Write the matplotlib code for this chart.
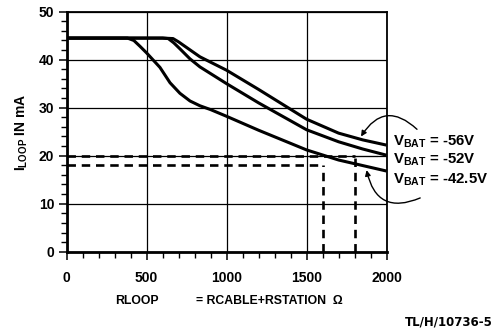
import numpy as np
import matplotlib
matplotlib.use('Agg')
import matplotlib.pyplot as plt

plt.rcParams['font.family'] = ['Liberation Sans', 'DejaVu Sans']
plt.rcParams['font.weight'] = 'bold'
plt.rcParams['mathtext.fontset'] = 'custom'
plt.rcParams['mathtext.rm'] = 'Liberation Sans:bold'
plt.rcParams['mathtext.bf'] = 'Liberation Sans:bold'

# curves (R loop in ohm, I loop in mA)
r_56 = [0, 600, 665, 700, 760, 833, 1000, 1200, 1500, 1700, 1850, 2000]
i_56 = [44.5, 44.5, 44.4, 43.7, 42.3, 40.6, 37.8, 33.8, 27.6, 24.7, 23.3, 22.2]

r_52 = [0, 600, 635, 670, 710, 770, 833, 1000, 1200, 1500, 1700, 1850, 2000]
i_52 = [44.5, 44.5, 44.4, 43.5, 42.2, 40.2, 38.5, 35.0, 31.0, 25.4, 22.9, 21.4, 20.1]

r_425 = [0, 380, 420, 458, 500, 583, 646, 708, 771, 833, 900, 1000, 1200, 1500, 1700, 2000]
i_425 = [44.5, 44.5, 44.0, 42.8, 41.4, 38.4, 35.2, 33.0, 31.4, 30.4, 29.6, 28.2, 25.3, 21.2, 19.1, 16.8]

labels = ['V$_{\\mathbf{BAT}}$ = -56V', 'V$_{\\mathbf{BAT}}$ = -52V', 'V$_{\\mathbf{BAT}}$ = -42.5V']

# dashed reference levels
ref_i = [20, 18]
ref_r = [1800, 1600]

fig = plt.figure(figsize=(4.95, 3.34), dpi=100)
ax = fig.add_axes([0.1347, 0.2464, 0.6463, 0.7186])

ax.set_xlim(0, 2000)
ax.set_ylim(0, 50)
ax.set_xticks([0, 500, 1000, 1500, 2000])
ax.set_yticks([0, 10, 20, 30, 40, 50])
ax.set_xticks(np.arange(0, 2001, 100), minor=True)
ax.set_yticks(np.arange(0, 51, 2), minor=True)
ax.tick_params(which='major', length=6, width=1.1, labelsize=10, pad=3)
ax.tick_params(which='minor', length=4, width=1.0)
ax.tick_params(axis='x', which='major', pad=8)
ax.grid(True, which='major', color='black', lw=0.9)
for s in ['left', 'bottom']:
    ax.spines[s].set_linewidth(2.0)
for s in ['top', 'right']:
    ax.spines[s].set_linewidth(1.3)

for r, i in [(r_56, i_56), (r_52, i_52), (r_425, i_425)]:
    ax.plot(r, i, color='black', lw=2.2, solid_capstyle='butt', zorder=4)

for lev, r in zip(ref_i, ref_r):
    ax.plot([0, r], [lev, lev], color='black', lw=1.9, ls=(0, (3.2, 2.2)), zorder=3)
    ax.plot([r, r], [0, lev], color='black', lw=1.9, ls=(0, (3.2, 2.2)), zorder=3)
ax.plot([1790, 1940], [20, 20], color='black', lw=0.8)

ax.annotate('', xy=(1840, 24.0), xytext=(2190, 25.5), annotation_clip=False,
            arrowprops=dict(arrowstyle='-|>', color='black', lw=1.0, mutation_scale=8,
                            connectionstyle='arc3,rad=0.6', shrinkA=0, shrinkB=0))
ax.annotate('', xy=(1875, 17.0), xytext=(2210, 11.2), annotation_clip=False,
            arrowprops=dict(arrowstyle='-|>', color='black', lw=1.0, mutation_scale=8,
                            connectionstyle='arc3,rad=-0.6', shrinkA=0, shrinkB=0))

for lab, y in zip(labels, [22.9, 19.1, 15.0]):
    ax.text(2040, y, lab, fontsize=10.8, ha='left', va='center', clip_on=False)

fig.text(0.044, 0.605, 'I$_{\\mathbf{LOOP}}$ IN mA', rotation=90, fontsize=10,
         ha='center', va='center')
fig.text(115 / 495, 1 - 301 / 334, 'RLOOP', fontsize=8.8, ha='left', va='center')
fig.text(196 / 495, 1 - 301 / 334, '= RCABLE+RSTATION  \u03a9', fontsize=8.8,
         ha='left', va='center')
fig.text(0.995, 1 - 322 / 334, 'TL/H/10736-5', fontsize=8.5, family='DejaVu Sans',
         ha='right', va='center')

fig.savefig('out.png', dpi=100)
